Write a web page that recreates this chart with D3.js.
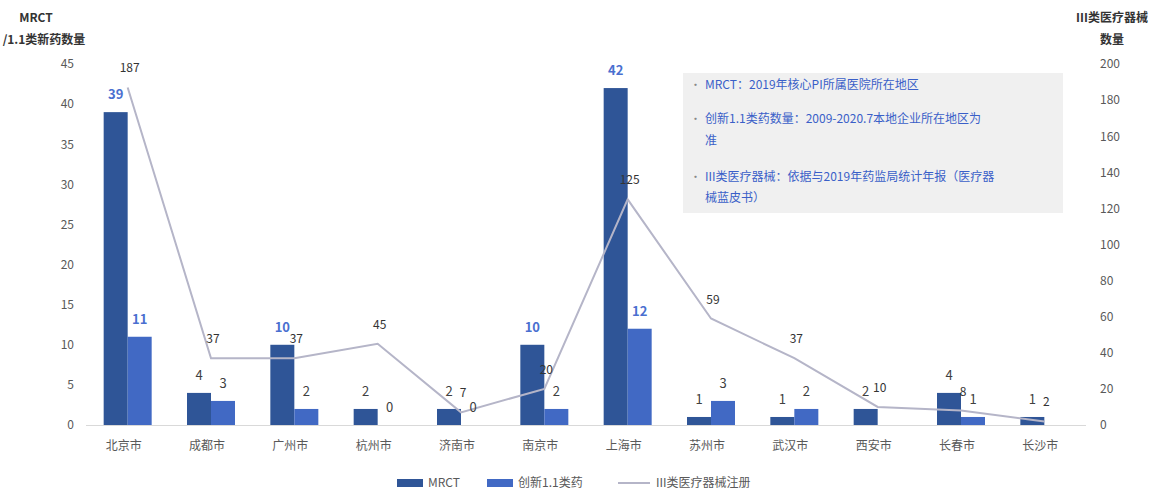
<!DOCTYPE html>
<html><head><meta charset="utf-8">
<script src="https://cdn.jsdelivr.net/npm/d3@7"></script>
<style>body{margin:0;background:#fff;}svg{display:block;font-family:"Noto Sans CJK SC","Noto Sans",sans-serif;}</style>
</head><body><svg id="c" width="1160" height="490"></svg>
<script>
const cities = ["北京市","成都市","广州市","杭州市","济南市","南京市","上海市","苏州市","武汉市","西安市","长春市","长沙市"];
const mrct = [39,4,10,2,2,10,42,1,1,2,4,1];
const drugs = [11,3,2,0,0,2,12,3,2,null,1,null];
const devices = [187,37,37,45,7,20,125,59,37,10,8,2];
const leftTicks = [0,5,10,15,20,25,30,35,40,45];
const rightTicks = [0,20,40,60,80,100,120,140,160,180,200];
const notes = [
  ["MRCT：2019年核心PI所属医院所在地区"],
  ["创新1.1类药数量：2009-2020.7本地企业所在地区为","准"],
  ["III类医疗器械：依据与2019年药监局统计年报（医疗器","械蓝皮书）"]
];
const legendNames = ["MRCT","创新1.1类药","III类医疗器械注册"];

const svg = d3.select("#c");
const x = d3.scaleBand().domain(cities).range([86,1086]);
const yL = d3.scaleLinear().domain([0,45]).range([425,64]);
const yR = d3.scaleLinear().domain([0,200]).range([425,64]);
const bw = 24;
const cMRCT = "#2f5597", cDrug = "#4169c4", cLine = "#b5b5c8", cText = "#595959";
const cx = d => x(d) + x.bandwidth()/2;

// baseline
svg.append("line").attr("x1",86).attr("x2",1086).attr("y1",yL(0)+0.5).attr("y2",yL(0)+0.5).attr("stroke","#d9d9d9");

// left axis
const gL = svg.append("g").attr("transform","translate(74,0)")
  .call(d3.axisLeft(yL).tickValues(leftTicks).tickSize(0).tickPadding(0));
gL.select(".domain").remove();
gL.selectAll("text").attr("font-size",12).attr("fill",cText).attr("font-family","Noto Sans CJK SC");
// right axis
const gR = svg.append("g").attr("transform","translate(1100,0)")
  .call(d3.axisRight(yR).tickValues(rightTicks).tickSize(0).tickPadding(0));
gR.select(".domain").remove();
gR.selectAll("text").attr("font-size",12).attr("fill",cText).attr("font-family","Noto Sans CJK SC");

// axis titles
svg.append("text").attr("x",36).attr("y",22).attr("text-anchor","middle").attr("font-size",12).attr("font-weight","bold").attr("fill","#333").text("MRCT");
svg.append("text").attr("x",44).attr("y",44).attr("text-anchor","middle").attr("font-size",12).attr("font-weight","bold").attr("fill","#333").text("/1.1类新药数量");
svg.append("text").attr("x",1112).attr("y",22).attr("text-anchor","middle").attr("font-size",12).attr("font-weight","bold").attr("fill","#333").text("III类医疗器械");
svg.append("text").attr("x",1112).attr("y",44).attr("text-anchor","middle").attr("font-size",12).attr("font-weight","bold").attr("fill","#333").text("数量");

// category labels
svg.selectAll(".cat").data(cities).join("text").attr("x",d=>cx(d)-4).attr("y",450)
  .attr("text-anchor","middle").attr("font-size",12).attr("fill",cText).text(d=>d);

// bars
svg.selectAll(".bm").data(cities).join("rect")
  .attr("x",d=>cx(d)-bw).attr("width",bw)
  .attr("y",(d,i)=>yL(mrct[i])).attr("height",(d,i)=>yL(0)-yL(mrct[i])).attr("fill",cMRCT);
svg.selectAll(".bd").data(cities.filter((d,i)=>drugs[i]!==null)).join("rect")
  .attr("x",d=>cx(d)).attr("width",bw)
  .attr("y",d=>yL(drugs[cities.indexOf(d)])).attr("height",d=>yL(0)-yL(drugs[cities.indexOf(d)])).attr("fill",cDrug);

// annotation box
svg.append("rect").attr("x",683).attr("y",73).attr("width",380).attr("height",140).attr("fill","#f0f0f0");
const noteY = [[89],[123,145],[181,202]];
notes.forEach((lines,k)=>{
  svg.append("text").attr("x",690).attr("y",noteY[k][0]).attr("font-size",11).attr("fill","#888").text("•");
  lines.forEach((t,j)=>{
    svg.append("text").attr("x",705).attr("y",noteY[k][j]).attr("font-size",12).attr("fill","#3a5fc8").text(t);
  });
});

// line
const line = d3.line().x((d,i)=>cx(cities[i])).y(d=>yR(d));
svg.append("path").datum(devices).attr("d",line).attr("fill","none").attr("stroke",cLine).attr("stroke-width",2);

// value labels
const labColor = v => v>=10 ? "#4a6fd0" : "#404040";
svg.selectAll(".lm").data(cities).join("text")
  .attr("x",d=>cx(d)-bw/2).attr("y",(d,i)=>yL(mrct[i])-13)
  .attr("text-anchor","middle").attr("font-size",13).attr("font-weight",(d,i)=>mrct[i]>=10?"bold":"normal")
  .attr("fill",(d,i)=>labColor(mrct[i])).text((d,i)=>mrct[i]);
svg.selectAll(".ld").data(cities.filter((d,i)=>drugs[i]!==null)).join("text")
  .attr("x",d=>cx(d)+bw/2).attr("y",d=>yL(drugs[cities.indexOf(d)])-13)
  .attr("text-anchor","middle").attr("font-size",13).attr("font-weight",d=>drugs[cities.indexOf(d)]>=10?"bold":"normal")
  .attr("fill",d=>labColor(drugs[cities.indexOf(d)])).text(d=>drugs[cities.indexOf(d)]);
svg.selectAll(".ll").data(cities).join("text")
  .attr("x",d=>cx(d)+2).attr("y",(d,i)=>yR(devices[i])-15)
  .attr("text-anchor","middle").attr("font-size",12).attr("fill","#333").text((d,i)=>devices[i]);

// legend
const lg = svg.append("g");
lg.append("rect").attr("x",397).attr("y",479).attr("width",26).attr("height",8).attr("fill",cMRCT);
lg.append("text").attr("x",428).attr("y",487).attr("font-size",12).attr("fill",cText).text(legendNames[0]);
lg.append("rect").attr("x",487).attr("y",479).attr("width",26).attr("height",8).attr("fill",cDrug);
lg.append("text").attr("x",518).attr("y",487).attr("font-size",12).attr("fill",cText).text(legendNames[1]);
lg.append("line").attr("x1",618).attr("x2",650).attr("y1",483).attr("y2",483).attr("stroke",cLine).attr("stroke-width",2);
lg.append("text").attr("x",656).attr("y",487).attr("font-size",12).attr("fill",cText).text(legendNames[2]);
</script></body></html>
